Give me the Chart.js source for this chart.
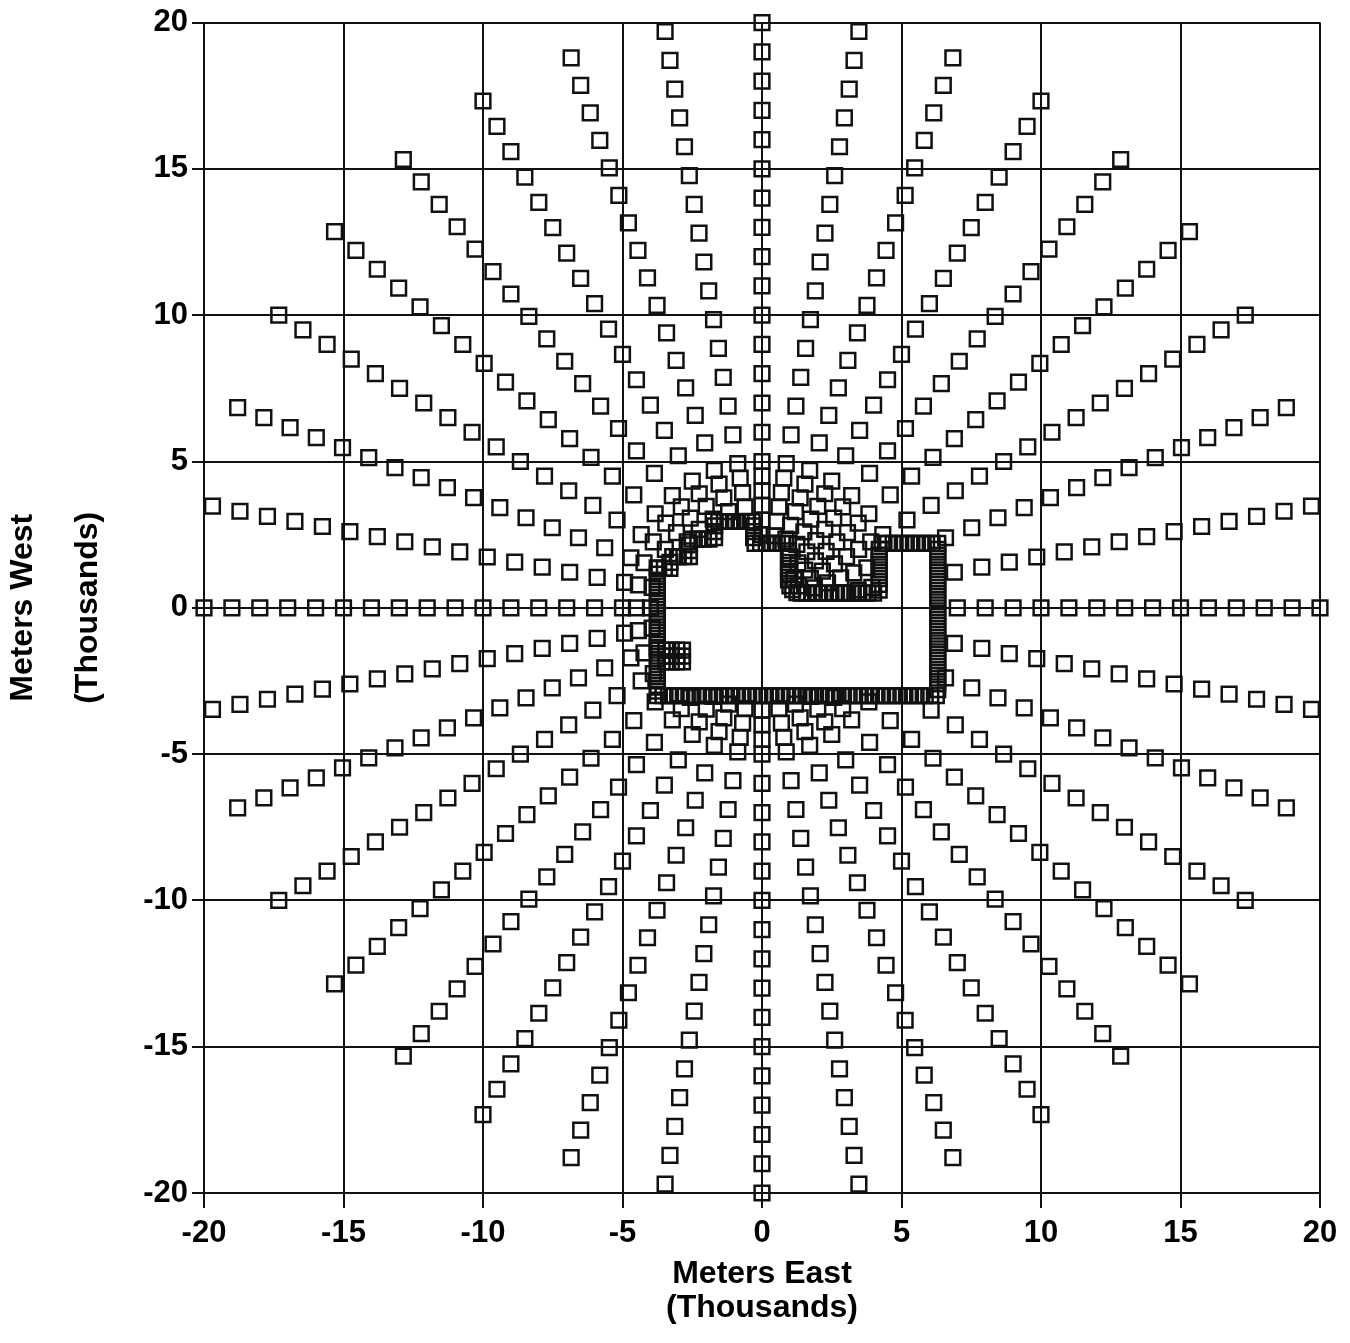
<!DOCTYPE html>
<html>
<head>
<meta charset="utf-8">
<script src="https://cdn.jsdelivr.net/npm/chart.js@4.4.1/dist/chart.umd.min.js"></script>
<style>
  html, body { margin: 0; padding: 0; background: #fff; }
  #wrap { width: 1350px; height: 1343px; }
</style>
</head>
<body>
<div id="wrap"><canvas id="receptorChart" width="1350" height="1343"></canvas></div>
<script>
// receptor grid, distances in thousands of meters
const directionsDeg = [0, 10, 20, 30, 40, 50, 60, 70, 80, 90, 100, 110, 120, 130, 140, 150, 160, 170,
  180, 190, 200, 210, 220, 230, 240, 250, 260, 270, 280, 290, 300, 310, 320, 330, 340, 350];
const nearRingsKm = [0.5, 1, 1.5, 2, 2.5, 3, 3.5, 4, 4.5];
const farRingsKm = [5, 6, 7, 8, 9, 10, 11, 12, 13, 14, 15, 16, 17, 18, 19, 20];
const axisTicks = [-20, -15, -10, -5, 0, 5, 10, 15, 20];

// property line corners (receptors inside are not modelled)
const propertyLine = [
  [-3.75, -3.0], [6.3, -3.0], [6.3, 2.2], [4.2, 2.2], [4.2, 0.5], [1.25, 0.5], [0.95, 0.8],
  [0.95, 2.2], [-0.3, 2.2], [-0.3, 2.95], [-1.7, 2.95], [-1.7, 2.35], [-2.6, 2.35], [-2.6, 1.75],
  [-3.3, 1.75], [-3.3, 1.35], [-3.75, 1.35]
];

// fenceline receptors
const fenceSouth = [
  [-3.75, -3], [-3.55, -3], [-3.35, -3], [-3.15, -3], [-2.95, -3], [-2.75, -3], [-2.55, -3], [-2.35, -3],
  [-2.15, -3], [-1.95, -3], [-1.75, -3], [-1.55, -3], [-1.35, -3], [-1.15, -3], [-0.95, -3], [-0.75, -3],
  [-0.55, -3], [-0.35, -3], [-0.15, -3], [0.05, -3], [0.25, -3], [0.45, -3], [0.65, -3], [0.85, -3],
  [1.05, -3], [1.25, -3], [1.45, -3], [1.65, -3], [1.85, -3], [2.05, -3], [2.25, -3], [2.45, -3],
  [2.65, -3], [2.85, -3], [3.05, -3], [3.25, -3], [3.45, -3], [3.65, -3], [3.85, -3], [4.05, -3],
  [4.25, -3], [4.45, -3], [4.65, -3], [4.85, -3], [5.05, -3], [5.25, -3], [5.45, -3], [5.65, -3],
  [5.85, -3], [6.05, -3], [6.25, -3]
];
const fenceEast = [
  [6.3, -2.8], [6.3, -2.6], [6.3, -2.4], [6.3, -2.2], [6.3, -2.0], [6.3, -1.8], [6.3, -1.6], [6.3, -1.4],
  [6.3, -1.2], [6.3, -1.0], [6.3, -0.8], [6.3, -0.6], [6.3, -0.4], [6.3, -0.2], [6.3, 0.0], [6.3, 0.2],
  [6.3, 0.4], [6.3, 0.6], [6.3, 0.8], [6.3, 1.0], [6.3, 1.2], [6.3, 1.4], [6.3, 1.6], [6.3, 1.8],
  [6.3, 2.0], [6.3, 2.2]
];
const fenceNorth = [
  [6.1, 2.2], [5.9, 2.2], [5.7, 2.2], [5.5, 2.2], [5.3, 2.2], [5.1, 2.2], [4.9, 2.2], [4.7, 2.2],
  [4.5, 2.2], [4.3, 2.2],
  [4.2, 2.0], [4.2, 1.8], [4.2, 1.6], [4.2, 1.4], [4.2, 1.2], [4.2, 1.0], [4.2, 0.8], [4.2, 0.6],
  [4.0, 0.5], [3.8, 0.5], [3.6, 0.5], [3.4, 0.5], [3.2, 0.5], [3.0, 0.5], [2.8, 0.5], [2.6, 0.5],
  [2.4, 0.5], [2.2, 0.5], [2.0, 0.5], [1.8, 0.5], [1.6, 0.5], [1.4, 0.5], [1.25, 0.52], [1.1, 0.62],
  [1.0, 0.75],
  [0.95, 0.95], [0.95, 1.15], [0.95, 1.35], [0.95, 1.55], [0.95, 1.75], [0.95, 1.95], [0.95, 2.2],
  [0.75, 2.2], [0.55, 2.2], [0.35, 2.2], [0.15, 2.2], [-0.05, 2.2], [-0.25, 2.2],
  [-0.3, 2.4], [-0.3, 2.6], [-0.3, 2.8], [-0.35, 2.95], [-0.55, 2.95], [-0.75, 2.95], [-0.95, 2.95],
  [-1.15, 2.95], [-1.35, 2.95], [-1.55, 2.95], [-1.7, 2.8], [-1.7, 2.6], [-1.7, 2.4], [-1.9, 2.35],
  [-2.1, 2.35], [-2.3, 2.35], [-2.5, 2.35], [-2.6, 2.15], [-2.6, 1.95], [-2.6, 1.75], [-2.8, 1.75],
  [-3.0, 1.75], [-3.2, 1.75], [-3.3, 1.55], [-3.3, 1.35], [-3.5, 1.35], [-3.7, 1.35]
];
const fenceWest = [
  [-3.75, 1.15], [-3.75, 0.95], [-3.75, 0.75], [-3.75, 0.55], [-3.75, 0.35], [-3.75, 0.15], [-3.75, -0.05],
  [-3.75, -0.25], [-3.75, -0.45], [-3.75, -0.65], [-3.75, -0.85], [-3.75, -1.05], [-3.75, -1.25],
  [-3.75, -1.45], [-3.75, -1.65], [-3.75, -1.85], [-3.75, -2.05], [-3.75, -2.25], [-3.75, -2.45],
  [-3.75, -2.65], [-3.75, -2.85]
];
const fenceBlock = [
  [-3.45, -1.45], [-3.25, -1.45], [-3.05, -1.45], [-2.85, -1.45],
  [-3.45, -1.65], [-3.25, -1.65], [-3.05, -1.65], [-2.85, -1.65],
  [-3.45, -1.85], [-3.25, -1.85], [-3.05, -1.85], [-2.85, -1.85]
];

function insideProperty(x, y) {
  let inside = false;
  for (let i = 0, j = propertyLine.length - 1; i < propertyLine.length; j = i++) {
    const [xi, yi] = propertyLine[i];
    const [xj, yj] = propertyLine[j];
    if ((yi > y) !== (yj > y) && x < (xj - xi) * (y - yi) / (yj - yi) + xi) inside = !inside;
  }
  return inside;
}

// polar grid: direction measured clockwise from north
const polarPoints = [];
directionsDeg.forEach(function (deg) {
  const a = deg * Math.PI / 180;
  nearRingsKm.concat(farRingsKm).forEach(function (r) {
    const x = r * Math.sin(a);
    const y = r * Math.cos(a);
    if (!insideProperty(x, y)) polarPoints.push({ x: x, y: y });
  });
});

const fencePoints = fenceSouth.concat(fenceEast, fenceNorth, fenceWest, fenceBlock)
  .map(function (p) { return { x: p[0], y: p[1] }; });

const ink = '#111';
const fontFamily = "'Liberation Sans', Arial, Helvetica, sans-serif";

function receptorSet(points) {
  return {
    data: points,
    pointStyle: 'rect',
    pointRadius: 10.4,
    pointBorderWidth: 2.5,
    pointBorderColor: ink,
    pointBackgroundColor: 'rgba(0,0,0,0)',
    showLine: false,
    clip: false
  };
}

const ctx = document.getElementById('receptorChart').getContext('2d');
new Chart(ctx, {
  type: 'scatter',
  data: { datasets: [receptorSet(polarPoints), receptorSet(fencePoints)] },
  options: {
    responsive: false,
    animation: false,
    layout: { padding: { left: 0, right: 30, top: 20, bottom: 0 } },
    plugins: { legend: { display: false }, tooltip: { enabled: false } },
    scales: {
      x: {
        type: 'linear',
        min: -20,
        max: 20,
        afterBuildTicks: function (scale) { scale.ticks = axisTicks.map(function (v) { return { value: v }; }); },
        afterFit: function (scale) { scale.height = 150; },
        grid: { color: ink, lineWidth: 2, tickLength: 15 },
        border: { display: true, color: ink, width: 2 },
        ticks: { color: '#000', padding: 7, maxRotation: 0, font: { family: fontFamily, size: 31, weight: 'bold' } },
        title: {
          display: true,
          text: ['Meters East', '(Thousands)'],
          color: '#000',
          padding: { top: 0, bottom: 18 },
          font: { family: fontFamily, size: 32, weight: 'bold', lineHeight: 1.06 }
        }
      },
      y: {
        type: 'linear',
        min: -20,
        max: 20,
        afterBuildTicks: function (scale) { scale.ticks = axisTicks.map(function (v) { return { value: v }; }); },
        afterFit: function (scale) { scale.width = 204; },
        grid: { color: ink, lineWidth: 2, tickLength: 12 },
        border: { display: true, color: ink, width: 2 },
        ticks: { color: '#000', padding: 4, font: { family: fontFamily, size: 31, weight: 'bold' } },
        title: {
          display: true,
          text: ['Meters West', '(Thousands)'],
          color: '#000',
          padding: { top: -10, bottom: 0 },
          font: { family: fontFamily, size: 32, weight: 'bold', lineHeight: 2.05 }
        }
      }
    }
  }
});
</script>
</body>
</html>
